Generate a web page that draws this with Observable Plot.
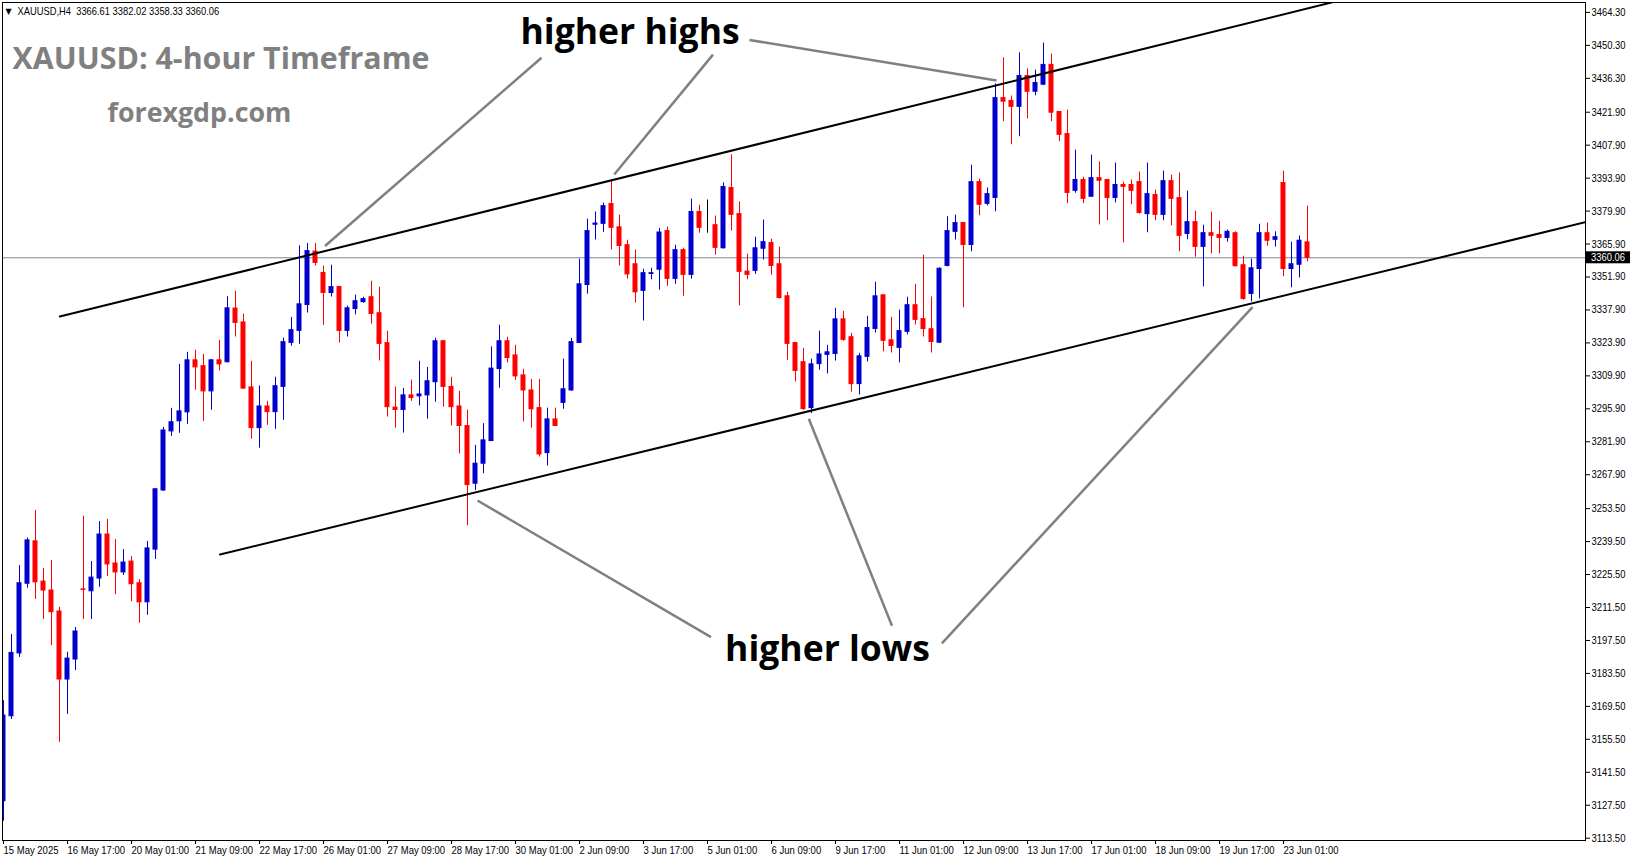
<!DOCTYPE html>
<html>
<head>
<meta charset="utf-8">
<script src="https://cdn.jsdelivr.net/npm/d3@7"></script>
<script src="https://cdn.jsdelivr.net/npm/@observablehq/plot@0.6"></script>
<style>
  html, body { margin: 0; padding: 0; background: #ffffff; }
  #chart { position: relative; width: 1631px; height: 861px; }
</style>
</head>
<body>
<div id="chart"></div>
<script>
// ---------- data (XAUUSD H4, 15 May 2025 09:00 -> 23 Jun 2025 13:00) ----------
const open = [3129.2,3165.3,3192.0,3221.6,3239.6,3222.5,3218.7,3209.8,3180.9,3189.4,
3219.2,3218.4,3223.8,3242.5,3230.2,3226.4,3231.0,3221.8,3213.7,3236.1,
3261.2,3286.3,3290.6,3294.4,3316.5,3314.0,3303.3,3316.5,3315.7,3338.5,
3332.6,3305.0,3287.7,3296.9,3294.5,3305.2,3323.9,3329.0,3340.0,3362.7,
3353.6,3345.1,3347.6,3329.0,3338.3,3341.2,3343.3,3336.5,3323.8,3296.4,
3295.4,3301.6,3301.2,3301.6,3307.2,3324.6,3305.2,3296.9,3288.6,3264.1,
3272.6,3282.2,3312.8,3324.6,3318.6,3310.1,3303.7,3296.2,3277.1,3291.4,
3298.4,3303.7,3323.9,3348.5,3374.1,3374.5,3382.9,3373.0,3365.4,3357.3,
3346.0,3353.2,3355.0,3371.4,3351.1,3363.3,3352.8,3379.5,3374.2,3373.9,
3364.1,3389.7,3378.6,3354.2,3354.5,3363.9,3366.3,3357.3,3343.7,3323.8,
3315.7,3296.2,3314.9,3318.8,3319.2,3333.9,3326.3,3306.4,3318.0,3329.8,
3344.1,3325.0,3321.8,3328.6,3339.9,3334.0,3329.7,3324.0,3356.6,3371.1,
3374.8,3365.5,3392.2,3383.0,3385.5,3427.9,3426.7,3424.2,3437.3,3430.6,
3433.6,3442.0,3422.0,3412.6,3388.5,3393.1,3386.0,3393.9,3393.1,3385.5,
3391.0,3391.0,3392.2,3378.6,3386.7,3378.3,3392.6,3385.4,3370.2,3375.2,
3364.7,3370.5,3369.7,3368.5,3370.5,3356.9,3344.7,3355.3,3370.5,3367.7,
3391.8,3355.3,3357.1,3366.61];
const high = [3171.9,3200.0,3229.3,3241.0,3252.7,3228.1,3231.5,3211.6,3192.5,3203.0,
3250.3,3231.0,3248.0,3248.9,3240.4,3236.1,3233.2,3223.4,3239.6,3262.1,
3288.0,3296.1,3314.8,3319.9,3320.8,3319.0,3316.8,3325.0,3343.5,3345.9,
3336.1,3316.1,3305.6,3299.1,3309.3,3325.9,3334.7,3365.1,3366.1,3366.1,
3356.5,3356.9,3348.0,3339.5,3344.2,3343.3,3350.1,3347.6,3328.9,3305.2,
3304.6,3308.1,3316.1,3313.5,3325.9,3325.0,3309.3,3303.3,3295.3,3280.4,
3289.6,3322.2,3331.4,3326.3,3322.9,3312.7,3308.4,3308.4,3296.2,3296.2,
3317.0,3325.8,3359.5,3376.5,3379.5,3383.3,3393.1,3378.2,3367.5,3363.3,
3355.2,3355.6,3372.5,3373.1,3365.4,3364.1,3385.0,3382.4,3384.6,3377.8,
3391.9,3403.8,3383.8,3361.6,3368.8,3376.1,3368.0,3364.6,3345.4,3324.2,
3321.6,3317.0,3328.9,3322.9,3338.6,3337.3,3328.0,3319.5,3335.2,3349.7,
3344.5,3334.8,3337.8,3343.3,3348.8,3361.2,3343.4,3355.8,3377.5,3378.2,
3375.1,3399.4,3393.5,3389.7,3433.9,3445.0,3428.8,3447.1,3440.3,3439.8,
3451.3,3446.6,3422.2,3422.8,3405.8,3394.3,3403.7,3400.7,3393.3,3400.3,
3392.2,3393.1,3396.5,3400.3,3388.8,3396.9,3395.2,3396.1,3388.4,3379.9,
3373.9,3379.5,3375.6,3371.8,3371.1,3360.7,3359.5,3374.3,3374.9,3371.1,
3396.9,3366.7,3369.3,3382.02];
const low = [3120.7,3163.9,3190.3,3219.7,3214.9,3206.4,3195.3,3154.2,3166.1,3184.7,
3206.4,3206.4,3220.1,3224.7,3217.0,3225.1,3214.0,3204.8,3208.2,3231.9,
3260.8,3284.2,3285.5,3289.3,3303.8,3290.6,3295.3,3312.0,3315.4,3326.4,
3304.2,3283.0,3279.2,3288.9,3287.2,3291.0,3322.5,3323.3,3336.6,3356.6,
3331.4,3343.4,3323.9,3326.4,3335.8,3340.8,3331.9,3316.2,3292.4,3287.7,
3285.6,3299.1,3297.1,3291.5,3298.7,3296.6,3288.6,3276.7,3246.2,3261.2,
3268.3,3282.2,3304.7,3315.4,3308.0,3290.3,3287.7,3275.4,3271.6,3288.6,
3295.7,3303.3,3323.6,3344.6,3367.6,3370.9,3363.3,3356.5,3351.0,3340.9,
3333.2,3350.7,3346.3,3347.9,3348.8,3343.7,3351.0,3370.5,3370.5,3361.2,
3363.8,3371.5,3339.6,3350.7,3353.0,3359.1,3352.7,3342.5,3316.5,3307.3,
3295.3,3293.9,3312.3,3310.7,3316.2,3324.6,3303.0,3301.8,3315.8,3328.1,
3320.1,3319.6,3315.4,3327.3,3331.5,3326.4,3319.6,3323.6,3356.2,3367.6,
3338.8,3362.6,3377.9,3382.1,3379.6,3417.9,3408.1,3411.5,3419.1,3428.9,
3433.2,3417.9,3409.4,3383.0,3387.5,3383.0,3386.0,3374.0,3375.8,3383.4,
3366.4,3382.6,3378.6,3370.7,3375.8,3375.8,3373.6,3362.6,3367.7,3360.3,
3347.7,3361.7,3361.7,3366.7,3356.2,3342.0,3341.3,3342.6,3365.0,3364.6,
3352.0,3347.3,3351.5,3358.33];
const close = [3165.6,3192.2,3221.8,3240.0,3222.2,3218.7,3209.5,3180.9,3189.8,3201.3,
3219.0,3224.2,3242.5,3229.8,3226.4,3230.6,3221.4,3213.7,3236.6,3261.7,
3286.7,3290.2,3294.8,3316.5,3313.5,3303.3,3316.5,3314.8,3338.6,3332.4,
3304.5,3287.7,3296.9,3294.5,3305.5,3324.2,3329.3,3340.3,3362.9,3357.9,
3345.1,3347.6,3329.0,3338.6,3341.6,3342.5,3336.2,3323.5,3296.6,3295.4,
3301.6,3300.5,3302.0,3307.6,3324.6,3305.2,3296.6,3288.6,3263.5,3272.6,
3282.5,3313.0,3324.6,3317.5,3309.7,3303.7,3295.7,3276.5,3291.4,3288.6,
3304.2,3324.2,3348.8,3371.4,3374.6,3382.0,3372.8,3365.1,3353.0,3345.4,
3353.5,3353.5,3370.8,3351.1,3363.3,3352.8,3379.5,3372.8,3374.2,3364.3,
3390.1,3378.3,3354.1,3352.8,3364.1,3366.7,3356.6,3343.0,3323.5,3312.0,
3295.8,3314.8,3319.0,3319.9,3333.9,3325.2,3306.4,3318.2,3330.2,3343.7,
3324.8,3322.6,3328.9,3339.9,3333.7,3329.8,3324.3,3355.4,3371.4,3374.8,
3365.5,3392.2,3382.6,3387.1,3427.9,3426.4,3424.2,3437.3,3430.6,3434.3,
3442.0,3421.7,3412.3,3387.6,3393.1,3385.1,3393.9,3392.8,3385.5,3391.0,
3390.2,3388.5,3379.1,3387.1,3378.3,3392.6,3385.1,3369.4,3375.2,3364.7,
3370.5,3369.4,3368.5,3371.1,3356.5,3342.6,3355.6,3370.5,3367.3,3368.8,
3355.3,3357.3,3367.3,3360.06];

// time-axis labels, one every 8 bars
const xTickLabels = ["15 May 2025","16 May 17:00","20 May 01:00","21 May 09:00","22 May 17:00",
"26 May 01:00","27 May 09:00","28 May 17:00","30 May 01:00","2 Jun 09:00","3 Jun 17:00",
"5 Jun 01:00","6 Jun 09:00","9 Jun 17:00","11 Jun 01:00","12 Jun 09:00","13 Jun 17:00",
"17 Jun 01:00","18 Jun 09:00","19 Jun 17:00","23 Jun 01:00"];
const xTickBars = xTickLabels.map((_, k) => k * 8);

// price-axis labels
const yTicks = [3464.30,3450.30,3436.30,3421.90,3407.90,3393.90,3379.90,3365.90,3351.90,3337.90,
3323.90,3309.90,3295.90,3281.90,3267.90,3253.50,3239.50,3225.50,3211.50,3197.50,3183.50,
3169.50,3155.50,3141.50,3127.50,3113.50];

const lastPrice = 3360.06;
const headerText = "XAUUSD,H4  3366.61 3382.02 3358.33 3360.06";

// channel trend lines (bar index, price)
const upperLineBar = [7.04, 166.1];
const upperLinePrice = [3335.1, 3468.6];
const lowerLineBar = [27.06, 198.0];
const lowerLinePrice = [3234.0, 3375.4];

// grey pointer lines (from label to touch point)
const pointerBar1 = [67.25, 88.69, 93.25, 88.44, 111.06, 117.3];
const pointerPrice1 = [3445.06, 3446.38, 3452.58, 3198.93, 3203.77, 3196.3];
const pointerBar2 = [40.19, 76.34, 124.13, 59.25, 100.66, 156.13];
const pointerPrice2 = [3365.07, 3395.45, 3435.38, 3256.96, 3291.67, 3339.07];

// annotation texts
const noteText = ["higher highs", "higher lows"];
const noteBar = [64.63, 90.2];
const notePrice = [3450.8, 3188.8];

// ---------- build tables ----------
const UP = "#0000cd", DOWN = "#ff0000", DOJI = "#000000";
const bars = open.map((o, i) => ({
  i, open: o, high: high[i], low: low[i], close: close[i],
  color: close[i] > o ? UP : close[i] < o ? DOWN : DOJI
}));
const upperLine = upperLineBar.map((b, k) => ({bar: b, price: upperLinePrice[k]}));
const lowerLine = lowerLineBar.map((b, k) => ({bar: b, price: lowerLinePrice[k]}));
const pointers = pointerBar1.map((b, k) => ({
  x1: b, y1: pointerPrice1[k], x2: pointerBar2[k], y2: pointerPrice2[k]
}));
const notes = noteText.map((t, k) => ({text: t, bar: noteBar[k], price: notePrice[k]}));

const axisFont = "'Liberation Sans', Arial, sans-serif";
const titleFont = "'Open Sans', 'Noto Sans', sans-serif";

const chart = Plot.plot({
  width: 1631,
  height: 861,
  marginLeft: 2,
  marginRight: 46,
  marginTop: 2,
  marginBottom: 21,
  style: {fontFamily: axisFont, fontSize: "11px", color: "#000", background: "#fff", overflow: "visible"},
  x: {domain: [-0.125, 197.75]},
  y: {domain: [3112.52, 3468.51]},
  color: {type: "identity"},
  marks: [
    Plot.ruleY([lastPrice], {stroke: "#778899", strokeWidth: 1}),
    // wicks
    Plot.ruleX(bars, {x: "i", y1: "low", y2: "high", stroke: "color", strokeWidth: 1, clip: true}),
    // bodies
    Plot.rect(bars, {
      x1: d => d.i - 0.25, x2: d => d.i + 0.25,
      y1: d => Math.min(d.open, d.close), y2: d => Math.max(d.open, d.close),
      fill: "color", stroke: "color", strokeWidth: 1, clip: true
    }),
    // channel lines
    Plot.line(upperLine, {x: "bar", y: "price", stroke: "#000", strokeWidth: 2, clip: true}),
    Plot.line(lowerLine, {x: "bar", y: "price", stroke: "#000", strokeWidth: 2, clip: true}),
    // grey pointers
    Plot.link(pointers, {x1: "x1", y1: "y1", x2: "x2", y2: "y2", stroke: "#808080", strokeWidth: 2.5}),
    // annotation labels
    Plot.text(notes, {x: "bar", y: "price", text: "text", textAnchor: "start", lineAnchor: "bottom",
      fontFamily: titleFont, fontWeight: 700, fontSize: 35.5, fill: "#000"}),
    // title and site
    Plot.text(["XAUUSD: 4-hour Timeframe"], {frameAnchor: "top-left", dx: 10, dy: 66, textAnchor: "start",
      lineAnchor: "bottom", fontFamily: titleFont, fontWeight: 700, fontSize: 30.4, fill: "#808080"}),
    Plot.text(["forexgdp.com"], {frameAnchor: "top-left", dx: 105, dy: 119, textAnchor: "start",
      lineAnchor: "bottom", fontFamily: titleFont, fontWeight: 700, fontSize: 26.8, fill: "#808080"}),
    // header
    Plot.text(["\u25BC"], {frameAnchor: "top-left", dx: 3, dy: 11, textAnchor: "start", lineAnchor: "bottom",
      fontFamily: "'DejaVu Sans', sans-serif", fontSize: 8, fill: "#000"}),
    Plot.text([headerText], {frameAnchor: "top-left", dx: 15, dy: 12.5, textAnchor: "start", lineAnchor: "bottom",
      fontFamily: axisFont, fontSize: 11.5, fill: "#000"}),
    // axes
    Plot.axisY(yTicks, {anchor: "right", tickSize: 4, tickPadding: 2, tickFormat: d => d.toFixed(2),
      fontSize: 10.8, label: null}),
    Plot.axisX(xTickBars, {anchor: "bottom", tickSize: 4, tickPadding: 1, textAnchor: "start",
      tickFormat: b => xTickLabels[b / 8], fontSize: 11.5, label: null}),
    Plot.frame({stroke: "#000", strokeWidth: 1})
  ]
});

// current-price tag on the price axis, placed with the chart's own y scale
const ys = chart.scale("y").apply(lastPrice);
const ns = "http://www.w3.org/2000/svg";
const tag = document.createElementNS(ns, "g");
const r = document.createElementNS(ns, "rect");
r.setAttribute("x", 1586); r.setAttribute("y", ys - 6);
r.setAttribute("width", 44); r.setAttribute("height", 12);
r.setAttribute("fill", "#000");
const t = document.createElementNS(ns, "text");
t.setAttribute("x", 1591); t.setAttribute("y", ys + 4);
t.setAttribute("fill", "#fff");
t.setAttribute("font-size", "10.8");
t.setAttribute("text-anchor", "start");
t.setAttribute("font-family", axisFont);
t.textContent = lastPrice.toFixed(2);
tag.appendChild(r); tag.appendChild(t);
chart.appendChild(tag);

document.getElementById("chart").appendChild(chart);

// narrow the small terminal-style texts to the reference's condensed widths
function fitTo(el, width) {
  el.setAttribute("textLength", width.toFixed(2));
  el.setAttribute("lengthAdjust", "spacingAndGlyphs");
}
chart.querySelectorAll('g[aria-label="y-axis tick label"] text').forEach(el => fitTo(el, 34));
const xTexts = [...chart.querySelectorAll('g[aria-label="x-axis tick label"] text')];
const refX = xTexts.find(el => el.textContent === "16 May 17:00");
const xFactor = refX ? 57.6 / refX.getComputedTextLength() : 0.8;
xTexts.forEach(el => fitTo(el, el.getComputedTextLength() * xFactor));
fitTo(t, 34);
chart.querySelectorAll("text").forEach(el => {
  if (el.textContent === headerText) fitTo(el, 201.7);
});
</script>
</body>
</html>
